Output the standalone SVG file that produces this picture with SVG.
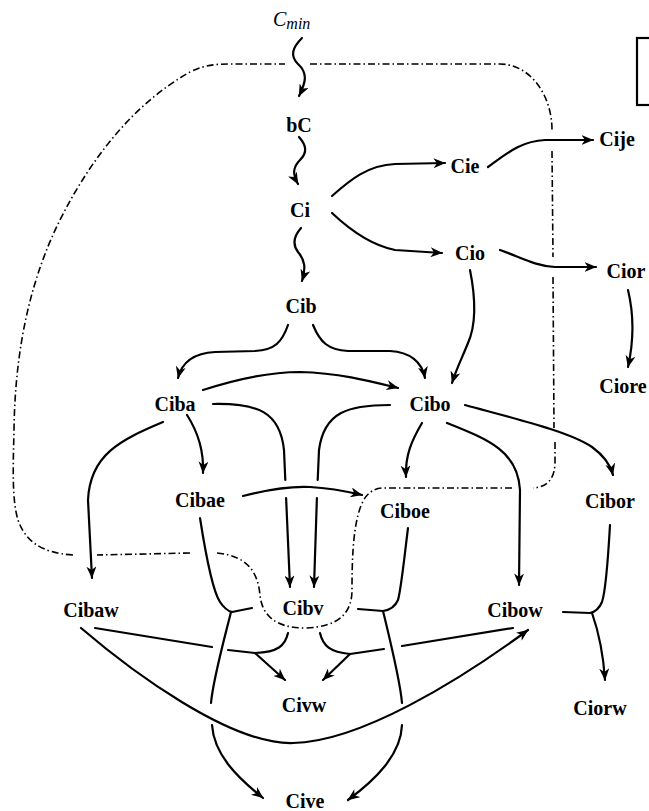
<svg xmlns="http://www.w3.org/2000/svg" width="649" height="811" viewBox="0 0 649 811">
<style>
.n{font-family:"Liberation Serif","Times New Roman",serif;font-weight:bold;font-size:20px;fill:#000;text-anchor:middle}
.it{font-family:"Liberation Serif","Times New Roman",serif;font-style:italic;fill:#000}
.e{fill:none;stroke:#000;stroke-width:2.2;stroke-linecap:round;stroke-linejoin:round}
.a{marker-end:url(#ah)}
.dd{fill:none;stroke:#000;stroke-width:1.6;stroke-dasharray:7 3 1.5 3}
</style>
<defs>
<marker id="ah" markerUnits="userSpaceOnUse" viewBox="0 0 12 10" refX="11.5" refY="5" markerWidth="12" markerHeight="10" orient="auto">
<path d="M0,0 L12,5 L0,10 L3.5,5 z" fill="#000"/>
</marker>
</defs>
<rect width="649" height="811" fill="#fff"/>

<g id="boundary">
<path class="dd" d="M310,64 L500,64 C530,64 552,95 552,130 L552,132"/>
<path class="dd" d="M552,151 L553,257"/>
<path class="dd" d="M553,277 L554,428"/>
<path class="dd" d="M555,442 L555,462 C555,478 548,487 533,488"/>
<path class="dd" d="M512,488 L382,488 C368,489 362,500 358,515 C353,535 352,560 352,590 C352,612 340,627 305,628 C275,628 262,615 260,595 C258,575 250,556 217,553"/>
<path class="dd" d="M190,553 L97,555"/>
<path class="dd" d="M73,555 C40,553 25,540 18,520 C12,500 13,470 14,430 C15,350 30,280 60,220 C95,150 140,100 190,72 C205,65 215,64 230,64 L285,64"/>
</g>

<g id="legend-box">
<rect x="637" y="38" width="30" height="67" fill="none" stroke="#000" stroke-width="2.2"/>
</g>

<g id="connectors">
<path class="e a" d="M302,38 C292,48 290,56 298,64 C308,73 306,82 299,96"/>
<path class="e a" d="M299,137 C306,145 308,152 300,160 C292,168 293,175 298,184"/>
<path class="e a" d="M301,228 C294,236 292,244 298,252 C305,260 306,268 302,281"/>
<path class="e a" d="M332,196 C350,180 368,165 395,164 L445,163"/>
<path class="e a" d="M488,167 C505,155 520,141 545,140 L593,140"/>
<path class="e a" d="M332,213 C350,230 370,245 395,250 L442,253"/>
<path class="e a" d="M500,250 C520,257 535,266 555,267 L596,267"/>
<path class="e a" d="M628,290 C634,315 634,340 628,367"/>
<path class="e a" d="M470,270 C476,300 476,325 468,343 C462,358 456,370 452,383"/>
<path class="e a" d="M288,325 C282,342 275,350 255,351 L215,352 C195,353 182,362 178,378"/>
<path class="e a" d="M313,325 C320,342 328,350 348,351 L390,351 C410,352 422,362 425,378"/>
<path class="e a" d="M203,390 C240,378 270,372 300,372 C340,373 370,381 398,388"/>
<path class="e" d="M213,404 C258,403 280,412 284,450 L285.3,480"/>
<path class="e a" d="M286.1,498 L290,587"/>
<path class="e" d="M390,405 C348,405 324,412 319,450 L317.7,480"/>
<path class="e a" d="M316.9,498 L314,587"/>
<path class="e a" d="M187,415 C198,432 204,450 203,473"/>
<path class="e a" d="M163,422 C120,440 90,455 88,500 L92,578"/>
<path class="e a" d="M422,423 C412,440 405,455 406,477"/>
<path class="e a" d="M447,423 C490,440 518,452 520,490 L519,585"/>
<path class="e a" d="M465,405 C520,420 570,432 592,447 C603,455 610,463 613,475"/>
<path class="e a" d="M243,496 C270,489 290,486 310,487 C330,488 345,491 362,495"/>
<path class="e" d="M200,518 C205,550 212,590 220,602 C224,608 228,611 232,612 L252,608"/>
<path class="e" d="M231,612 C224,640 213,680 211,703"/>
<path class="e a" d="M212,725 C214,755 238,778 263,798"/>
<path class="e" d="M408,528 C404,560 401,590 398,600 C395,607 390,610 383,611 L358,609"/>
<path class="e" d="M383,611 C390,640 400,680 402,703"/>
<path class="e a" d="M402,725 C401,755 375,780 348,800"/>
<path class="e" d="M95,628 L212,647"/>
<path class="e" d="M228,650 L255,653"/>
<path class="e" d="M288,633 C285,646 278,652 255,653"/>
<path class="e a" d="M255,653 L285,680"/>
<path class="e" d="M513,628 L402,646"/>
<path class="e" d="M384,649 L350,654"/>
<path class="e" d="M320,633 C323,646 330,652 350,654"/>
<path class="e a" d="M350,654 L323,680"/>
<path class="e a" d="M81,628 C130,670 230,745 293,743 C360,742 460,680 528,630"/>
<path class="e" d="M610,525 C608,560 606,590 602,602 C599,609 595,612 590,613 L563,612"/>
<path class="e a" d="M592,613 C598,630 603,650 605,680"/>
</g>

<g id="node-Cmin"><text class="it" x="273" y="26" font-size="20">C<tspan font-size="16" dy="3">min</tspan></text></g>
<g id="node-bC"><text class="n" x="299" y="132">bC</text></g>
<g id="node-Ci"><text class="n" x="300" y="217">Ci</text></g>
<g id="node-Cie"><text class="n" x="465" y="173">Cie</text></g>
<g id="node-Cije"><text class="n" x="617" y="146">Cije</text></g>
<g id="node-Cio"><text class="n" x="470" y="260">Cio</text></g>
<g id="node-Cior"><text class="n" x="626" y="278">Cior</text></g>
<g id="node-Ciore"><text class="n" x="623" y="393">Ciore</text></g>
<g id="node-Cib"><text class="n" x="301" y="313">Cib</text></g>
<g id="node-Ciba"><text class="n" x="175" y="411">Ciba</text></g>
<g id="node-Cibo"><text class="n" x="430" y="411">Cibo</text></g>
<g id="node-Cibae"><text class="n" x="200" y="507">Cibae</text></g>
<g id="node-Ciboe"><text class="n" x="405" y="518">Ciboe</text></g>
<g id="node-Cibor"><text class="n" x="610" y="508">Cibor</text></g>
<g id="node-Cibaw"><text class="n" x="91" y="617">Cibaw</text></g>
<g id="node-Cibv"><text class="n" x="303" y="615">Cibv</text></g>
<g id="node-Cibow"><text class="n" x="515" y="617">Cibow</text></g>
<g id="node-Civw"><text class="n" x="304" y="712">Civw</text></g>
<g id="node-Ciorw"><text class="n" x="600" y="715">Ciorw</text></g>
<g id="node-Cive"><text class="n" x="305" y="808">Cive</text></g>
</svg>
